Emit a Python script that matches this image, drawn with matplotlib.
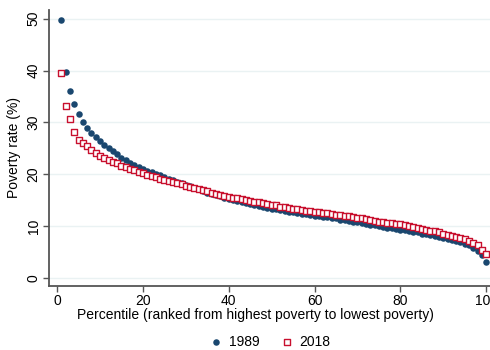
import matplotlib
matplotlib.use("Agg")
import matplotlib.pyplot as plt

plt.rcParams['font.family'] = ['Liberation Sans', 'DejaVu Sans']

pct = list(range(1, 101))

pov_1989 = [49.8, 39.7, 36.0, 33.6, 31.7, 30.1, 29.0, 28.0, 27.1, 26.4,
            25.7, 25.1, 24.5, 23.9, 23.2, 22.7, 22.2, 21.8, 21.4, 21.0,
            20.7, 20.4, 20.1, 19.8, 19.5, 19.2, 18.9, 18.6, 18.3, 18.0,
            17.7, 17.4, 17.1, 16.8, 16.5, 16.3, 16.0, 15.8, 15.5, 15.3,
            15.1, 14.9, 14.7, 14.5, 14.3, 14.1, 13.9, 13.8, 13.6, 13.4,
            13.3, 13.1, 13.0, 12.8, 12.7, 12.6, 12.4, 12.3, 12.2, 12.0,
            11.9, 11.8, 11.7, 11.6, 11.5, 11.3, 11.2, 11.1, 10.9, 10.8,
            10.6, 10.5, 10.3, 10.2, 10.0, 9.9, 9.7, 9.6, 9.4, 9.3,
            9.2, 9.0, 8.9, 8.8, 8.6, 8.5, 8.3, 8.2, 8.0, 7.8,
            7.6, 7.4, 7.2, 6.9, 6.6, 6.3, 5.8, 5.2, 4.4, 3.2]

pov_2018 = [39.5, 33.2, 30.6, 28.1, 26.7, 26.1, 25.5, 24.7, 24.1, 23.6,
            23.2, 22.8, 22.4, 22.1, 21.7, 21.4, 21.1, 20.8, 20.5, 20.2,
            19.9, 19.7, 19.4, 19.2, 19.0, 18.7, 18.5, 18.3, 18.1, 17.8,
            17.6, 17.4, 17.1, 16.9, 16.7, 16.5, 16.3, 16.1, 15.9, 15.7,
            15.5, 15.4, 15.2, 15.0, 14.9, 14.7, 14.6, 14.4, 14.3, 14.1,
            14.0, 13.8, 13.7, 13.6, 13.4, 13.3, 13.2, 13.0, 12.9, 12.8,
            12.7, 12.6, 12.5, 12.4, 12.2, 12.1, 12.0, 11.9, 11.8, 11.6,
            11.5, 11.4, 11.2, 11.1, 10.9, 10.8, 10.7, 10.6, 10.5, 10.4,
            10.2, 10.1, 9.9, 9.7, 9.4, 9.3, 9.1, 9.0, 8.8, 8.6,
            8.4, 8.2, 8.0, 7.8, 7.5, 7.2, 6.8, 6.3, 5.5, 4.6]

xticks = [0, 20, 40, 60, 80, 100]
yticks = [0, 10, 20, 30, 40, 50]

navy = '#1a476f'
red = '#c8102e'
axcol = '#555555'

fig = plt.figure(figsize=(4.9, 3.5), dpi=100)
ax = fig.add_axes([0.1, 0.183, 0.9, 0.789])

for y in yticks:
    ax.axhline(y, color='#eaf2f3', lw=1.0, zorder=0)

ax.scatter(pct, pov_1989, s=22, marker='o', color=navy, linewidths=0, zorder=2, label='1989')
ax.scatter(pct, pov_2018, s=15, marker='s', facecolors='white', edgecolors=red, linewidths=1.0, zorder=3, label='2018')

ax.set_xlim(-1.9, 100.9)
ax.set_ylim(-1.5, 51.7)
ax.set_xticks(xticks)
ax.set_yticks(yticks)
ax.set_yticklabels([str(v) for v in yticks], rotation=90, va='center')

for s in ['top', 'right']:
    ax.spines[s].set_visible(False)
for s in ['left', 'bottom']:
    ax.spines[s].set_color(axcol)
    ax.spines[s].set_linewidth(1.3)
ax.tick_params(axis='both', colors=axcol, length=4, width=1.0, labelsize=10, labelcolor='black', pad=2)

ax.set_xlabel('Percentile (ranked from highest poverty to lowest poverty)', fontsize=10)
ax.xaxis.set_label_coords(0.467, -0.08)
ax.set_ylabel('Poverty rate (%)', fontsize=10, labelpad=4)

fig.legend(loc='center', bbox_to_anchor=(0.551, 0.024), ncol=2, frameon=False,
           fontsize=10, handlelength=1.0, handletextpad=0.4, columnspacing=1.5)

fig.savefig('out.png', dpi=100)
